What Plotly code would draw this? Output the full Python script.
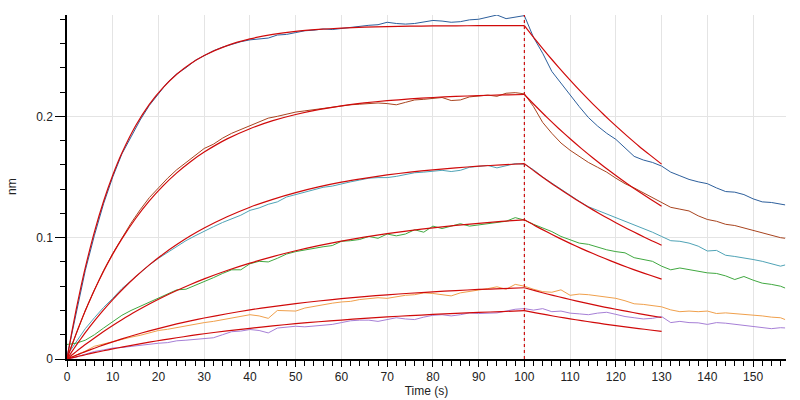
import plotly.graph_objects as go

# ---------------- data ----------------
T_ASSOC = [0, 2, 4, 6, 8, 10, 12, 14, 16, 18, 20, 22, 24, 26, 28, 30, 32, 34, 36, 38,
           40, 42, 44, 46, 48, 50, 52, 54, 56, 58, 60, 62, 64, 66, 68, 70, 72, 74, 76, 78,
           80, 82, 84, 86, 88, 90, 92, 94, 96, 98, 100]
T_DISS = [102, 104, 106, 108, 110, 112, 114, 116, 118, 120, 122, 124, 126, 128, 130,
          132, 134, 136, 138, 140, 142, 144, 146, 148, 150, 152, 154, 156, 157]

D1_ASSOC = [0.002, 0.038, 0.073, 0.102, 0.128, 0.150, 0.169, 0.183, 0.197, 0.209,
            0.219, 0.228, 0.235, 0.240, 0.246, 0.250, 0.254, 0.257, 0.2595, 0.2615,
            0.263, 0.264, 0.2645, 0.267, 0.2675, 0.269, 0.2705, 0.271, 0.272, 0.2715,
            0.2725, 0.273, 0.2745, 0.275, 0.2755, 0.2775, 0.2765, 0.276, 0.2765, 0.278,
            0.279, 0.2785, 0.2775, 0.278, 0.2795, 0.2800, 0.2815, 0.2835, 0.2805, 0.2815,
            0.2830]
D1_DISS = [0.265, 0.252, 0.237, 0.227, 0.217, 0.208, 0.199, 0.192, 0.186, 0.181,
           0.174, 0.167, 0.164, 0.162, 0.159, 0.154, 0.151, 0.148, 0.146, 0.1445,
           0.141, 0.138, 0.1375, 0.1355, 0.132, 0.1295, 0.129, 0.1275, 0.127]

D2_ASSOC = [0.001, 0.021, 0.040, 0.057, 0.073, 0.087, 0.100, 0.112, 0.123, 0.133,
            0.141, 0.149, 0.156, 0.162, 0.168, 0.1735, 0.177, 0.182, 0.186, 0.189,
            0.1925, 0.195, 0.1985, 0.200, 0.202, 0.2035, 0.2045, 0.2055, 0.207, 0.2075,
            0.2085, 0.2095, 0.210, 0.2105, 0.211, 0.2105, 0.2095, 0.2115, 0.2135, 0.214,
            0.2145, 0.2155, 0.213, 0.2135, 0.216, 0.2165, 0.2175, 0.2165, 0.219, 0.2195,
            0.2185]
D2_DISS = [0.208, 0.195, 0.186, 0.178, 0.172, 0.167, 0.162, 0.158, 0.154, 0.149,
           0.1445, 0.141, 0.137, 0.1335, 0.129, 0.125, 0.1235, 0.122, 0.118, 0.115,
           0.1135, 0.111, 0.110, 0.108, 0.1055, 0.104, 0.1015, 0.100, 0.0995]

D3_ASSOC = [0.003, 0.014, 0.025, 0.034, 0.0425, 0.050, 0.058, 0.0645, 0.071, 0.0775,
            0.083, 0.088, 0.093, 0.0975, 0.1015, 0.1055, 0.109, 0.1125, 0.1155, 0.1185,
            0.1225, 0.1245, 0.1275, 0.1295, 0.1335, 0.1355, 0.138, 0.1395, 0.1415, 0.1425,
            0.1445, 0.146, 0.1475, 0.149, 0.1495, 0.1495, 0.1505, 0.152, 0.1535, 0.154,
            0.155, 0.1555, 0.1545, 0.1555, 0.158, 0.159, 0.1595, 0.1575, 0.1595, 0.161,
            0.1605]
D3_DISS = [0.156, 0.150, 0.145, 0.1395, 0.135, 0.130, 0.1255, 0.1225, 0.1195, 0.117,
           0.1135, 0.1105, 0.108, 0.1045, 0.101, 0.0975, 0.097, 0.0955, 0.093, 0.089,
           0.0895, 0.0855, 0.0845, 0.0835, 0.082, 0.0805, 0.0785, 0.0765, 0.0775]

D4_ASSOC = [0.012, 0.013, 0.0155, 0.020, 0.0255, 0.031, 0.036, 0.040, 0.0435, 0.047,
            0.0505, 0.054, 0.057, 0.0575, 0.0605, 0.0635, 0.067, 0.0705, 0.0735, 0.0735,
            0.0785, 0.0805, 0.080, 0.083, 0.0865, 0.0885, 0.090, 0.0915, 0.0925, 0.0935,
            0.097, 0.0975, 0.0985, 0.1010, 0.0995, 0.103, 0.1015, 0.103, 0.1065, 0.1045,
            0.1095, 0.1075, 0.1095, 0.1115, 0.1095, 0.1105, 0.112, 0.113, 0.1135, 0.1165,
            0.1145]
D4_DISS = [0.111, 0.108, 0.105, 0.101, 0.098, 0.0955, 0.0945, 0.092, 0.090, 0.0885,
           0.0875, 0.0835, 0.082, 0.0805, 0.0765, 0.0735, 0.075, 0.0735, 0.072, 0.071,
           0.0705, 0.0685, 0.0655, 0.068, 0.065, 0.0625, 0.0615, 0.060, 0.0585]

D5_ASSOC = [0.0, 0.003, 0.0065, 0.0105, 0.0125, 0.0145, 0.016, 0.018, 0.0195, 0.0215,
            0.0235, 0.0245, 0.026, 0.0275, 0.0285, 0.030, 0.031, 0.0325, 0.034, 0.0355,
            0.0365, 0.0355, 0.0335, 0.040, 0.0395, 0.0395, 0.042, 0.0435, 0.0445, 0.046,
            0.047, 0.0475, 0.049, 0.0495, 0.0505, 0.050, 0.0515, 0.0525, 0.053, 0.0545,
            0.054, 0.053, 0.052, 0.0545, 0.0555, 0.0565, 0.058, 0.0595, 0.0575, 0.0615,
            0.060]
D5_DISS = [0.0575, 0.0555, 0.0550, 0.0570, 0.0525, 0.0535, 0.053, 0.052, 0.0515, 0.050,
           0.048, 0.0455, 0.045, 0.0438, 0.043, 0.0405, 0.039, 0.0395, 0.039, 0.0395,
           0.0375, 0.038, 0.0375, 0.0365, 0.0365, 0.0355, 0.0345, 0.034, 0.0325]

D6_ASSOC = [0.0, 0.0015, 0.004, 0.0062, 0.0075, 0.009, 0.0095, 0.0105, 0.0115, 0.0125,
            0.013, 0.0135, 0.015, 0.0155, 0.016, 0.017, 0.0175, 0.020, 0.0225, 0.023,
            0.0243, 0.0235, 0.0215, 0.0255, 0.026, 0.027, 0.0265, 0.0272, 0.028, 0.0285,
            0.030, 0.0315, 0.032, 0.032, 0.031, 0.0325, 0.034, 0.033, 0.0325, 0.0345,
            0.036, 0.0365, 0.0355, 0.0365, 0.038, 0.0375, 0.0375, 0.038, 0.0395, 0.041,
            0.0415]
D6_DISS = [0.0403, 0.0415, 0.039, 0.0395, 0.0378, 0.0372, 0.0365, 0.0378, 0.0385, 0.0368,
           0.035, 0.034, 0.033, 0.0335, 0.035, 0.030, 0.031, 0.030, 0.0298, 0.0285,
           0.030, 0.0295, 0.0285, 0.0278, 0.027, 0.026, 0.025, 0.0258, 0.0256]

FIT_T_ASSOC = [0, 1, 2, 3, 4, 6, 8, 10, 12, 15, 18, 21, 24, 27, 30, 35, 40, 45, 50, 55,
               60, 65, 70, 75, 80, 85, 90, 95, 100]
FIT_T_DISS = [100, 102.5, 105, 107.5, 110, 112.5, 115, 117.5, 120, 122.5, 125, 127.5, 130]

F1_ASSOC = [0, 0.0211, 0.0407, 0.0587, 0.0753, 0.1048, 0.1300, 0.1514, 0.1697, 0.1922,
            0.2099, 0.2237, 0.2347, 0.2433, 0.2501, 0.2583, 0.2638, 0.2675, 0.2700, 0.2716,
            0.2727, 0.2735, 0.2740, 0.2743, 0.2745, 0.2746, 0.2747, 0.2748, 0.2748]
F1_DISS = [0.2748, 0.2628, 0.2513, 0.2403, 0.2298, 0.2197, 0.2101, 0.2009, 0.1921, 0.1837,
           0.1756, 0.1680, 0.1606]
F2_ASSOC = [0, 0.0107, 0.0209, 0.0306, 0.0398, 0.0569, 0.0724, 0.0864, 0.0990, 0.1158,
            0.1303, 0.1427, 0.1534, 0.1626, 0.1705, 0.1814, 0.1898, 0.1964, 0.2015, 0.2055,
            0.2086, 0.2110, 0.2129, 0.2143, 0.2155, 0.2164, 0.2171, 0.2176, 0.2180]
F2_DISS = [0.2180, 0.2083, 0.1989, 0.1900, 0.1815, 0.1734, 0.1657, 0.1583, 0.1512, 0.1444,
           0.1380, 0.1318, 0.1259]
F3_ASSOC = [0, 0.0057, 0.0112, 0.0165, 0.0217, 0.0314, 0.0405, 0.0490, 0.0569, 0.0678,
            0.0776, 0.0864, 0.0943, 0.1015, 0.1079, 0.1172, 0.1251, 0.1316, 0.1371, 0.1418,
            0.1457, 0.1489, 0.1517, 0.1540, 0.1559, 0.1575, 0.1589, 0.1600, 0.1610]
F3_DISS = [0.1610, 0.1539, 0.1471, 0.1407, 0.1345, 0.1286, 0.1229, 0.1175, 0.1123, 0.1074,
           0.1027, 0.0981, 0.0938]
F4_ASSOC = [0, 0.0031, 0.0061, 0.0090, 0.0119, 0.0174, 0.0227, 0.0277, 0.0324, 0.0391,
            0.0453, 0.0511, 0.0564, 0.0614, 0.0660, 0.0729, 0.0790, 0.0844, 0.0892, 0.0934,
            0.0971, 0.1004, 0.1033, 0.1058, 0.1081, 0.1101, 0.1118, 0.1134, 0.1147]
F4_DISS = [0.1147, 0.1095, 0.1046, 0.0998, 0.0953, 0.0910, 0.0869, 0.0830, 0.0792, 0.0756,
           0.0722, 0.0690, 0.0658]
F5_ASSOC = [0, 0.0016, 0.0031, 0.0046, 0.0061, 0.0089, 0.0116, 0.0141, 0.0166, 0.0200,
            0.0232, 0.0261, 0.0289, 0.0314, 0.0338, 0.0373, 0.0405, 0.0432, 0.0457, 0.0478,
            0.0497, 0.0514, 0.0529, 0.0542, 0.0553, 0.0564, 0.0573, 0.0580, 0.0587]
F5_DISS = [0.0587, 0.0561, 0.0536, 0.0513, 0.0490, 0.0469, 0.0448, 0.0428, 0.0410, 0.0392,
           0.0374, 0.0358, 0.0342]
F6_ASSOC = [0, 0.0009, 0.0018, 0.0027, 0.0035, 0.0052, 0.0068, 0.0083, 0.0098, 0.0119,
            0.0139, 0.0158, 0.0175, 0.0192, 0.0208, 0.0232, 0.0253, 0.0273, 0.0291, 0.0307,
            0.0321, 0.0335, 0.0347, 0.0357, 0.0367, 0.0376, 0.0384, 0.0391, 0.0398]
F6_DISS = [0.0398, 0.0380, 0.0363, 0.0346, 0.0331, 0.0316, 0.0302, 0.0288, 0.0275, 0.0262,
           0.0251, 0.0239, 0.0228]

DATA_COLORS = ["#2d5f9c", "#a8441f", "#4fa3b6", "#40a840", "#f0a04c", "#a67fd6"]
FIT_COLOR = "#d00a0a"
SWITCH_TIME = 100

data_series = [(D1_ASSOC, D1_DISS), (D2_ASSOC, D2_DISS), (D3_ASSOC, D3_DISS),
               (D4_ASSOC, D4_DISS), (D5_ASSOC, D5_DISS), (D6_ASSOC, D6_DISS)]
fit_series = [(F1_ASSOC, F1_DISS), (F2_ASSOC, F2_DISS), (F3_ASSOC, F3_DISS),
              (F4_ASSOC, F4_DISS), (F5_ASSOC, F5_DISS), (F6_ASSOC, F6_DISS)]

fig = go.Figure()

t_data = T_ASSOC + T_DISS
for (a, d), c in zip(data_series, DATA_COLORS):
    fig.add_trace(go.Scatter(x=t_data, y=a + d, mode="lines",
                             line=dict(color=c, width=1), hoverinfo="skip",
                             showlegend=False))

for a, d in fit_series:
    fig.add_trace(go.Scatter(x=FIT_T_ASSOC + [None] + FIT_T_DISS, y=a + [None] + d,
                             mode="lines", connectgaps=False,
                             line=dict(color=FIT_COLOR, width=1.2, shape="spline",
                                       smoothing=0.6),
                             hoverinfo="skip", showlegend=False))

fig.add_shape(type="line", xref="x", yref="paper", x0=SWITCH_TIME, x1=SWITCH_TIME,
              y0=0, y1=1, line=dict(color="#cc1111", width=1.2, dash="3px,3px"))

axis_font = dict(family="Liberation Sans, Arial, sans-serif", size=12, color="#222")

fig.update_layout(
    width=800, height=400,
    margin=dict(l=67, r=14, t=15, b=41, autoexpand=False),
    paper_bgcolor="white", plot_bgcolor="white",
    font=axis_font,
    xaxis=dict(range=[0, 157.2], tick0=0, dtick=10, showline=True, linecolor="black",
               linewidth=1.5, ticks="outside", ticklen=6, tickwidth=1, tickcolor="black",
               showgrid=True, gridcolor="#e4e4e4", gridwidth=1, zeroline=False,
               tickfont=axis_font, automargin=False,
               minor=dict(dtick=2, ticks="outside", ticklen=5, tickwidth=1,
                          tickcolor="black", showgrid=False),
               title=dict(text="Time (s)", font=axis_font, standoff=2)),
    yaxis=dict(range=[0, 0.2835], tick0=0, dtick=0.1, showline=True, linecolor="black",
               linewidth=1.5, ticks="outside", ticklen=10, tickwidth=1, tickcolor="black",
               showgrid=True, gridcolor="#e4e4e4", gridwidth=1, zeroline=False,
               tickfont=axis_font, automargin=False,
               minor=dict(dtick=0.02, ticks="outside", ticklen=5, tickwidth=1,
                          tickcolor="black", showgrid=False)),
    annotations=[dict(text="nm", xref="paper", yref="paper", x=(12 - 67) / 719, y=0.5,
                      xanchor="center", yanchor="middle", textangle=-90,
                      showarrow=False, font=axis_font)],
)

fig.write_html("out.html")
